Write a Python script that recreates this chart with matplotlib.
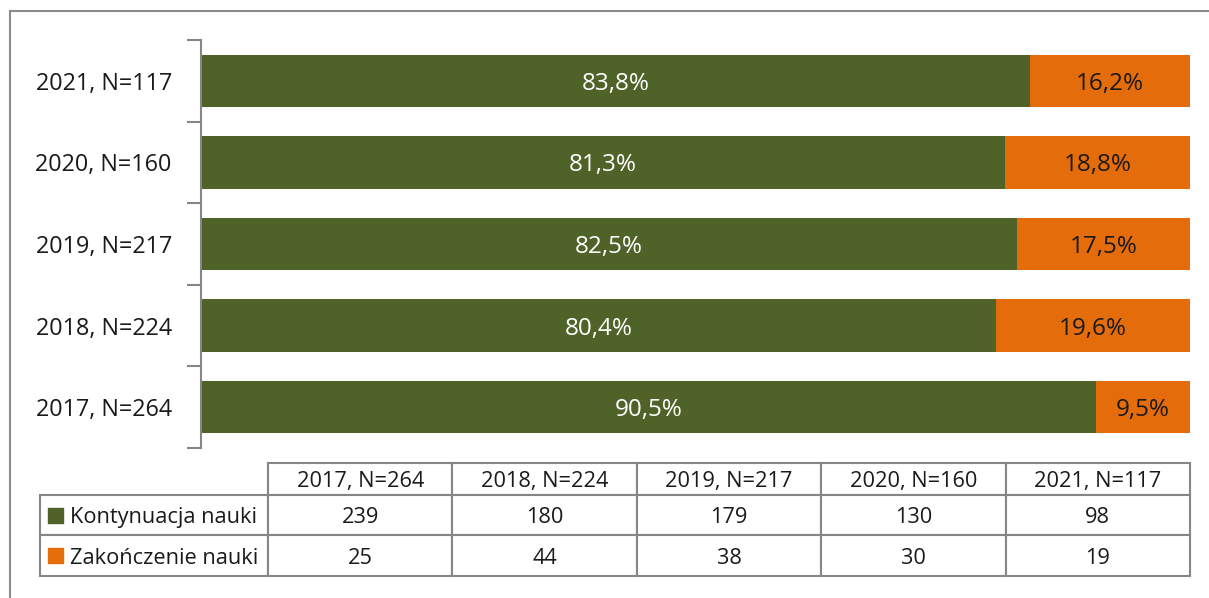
import matplotlib
matplotlib.use("Agg")
import matplotlib.pyplot as plt
from matplotlib.patches import Rectangle
from matplotlib.lines import Line2D
import numpy as np

plt.rcParams['font.family'] = ['Open Sans', 'DejaVu Sans']

categories = ["2017, N=264", "2018, N=224", "2019, N=217", "2020, N=160", "2021, N=117"]
kontynuacja_pct = [90.5, 80.4, 82.5, 81.3, 83.8]
zakonczenie_pct = [9.5, 19.6, 17.5, 18.8, 16.2]
kontynuacja_n = [239, 180, 179, 130, 98]
zakonczenie_n = [25, 44, 38, 30, 19]
series_names = ["Kontynuacja nauki", "Zakończenie nauki"]

GREEN = "#4F6228"
ORANGE = "#E46C0A"
GRAY = "#868686"
TXT = "#1a1a1a"

W, H = 1209, 598
fig = plt.figure(figsize=(W / 100, H / 100), dpi=100)

def fx(px):
    return px / W

def fy(py):
    return 1 - py / H

# outer frame
fig.add_artist(Line2D([fx(10), fx(10)], [fy(11), 0], color="#8C8C8C", lw=1.5, transform=fig.transFigure))
fig.add_artist(Line2D([fx(10), 1], [fy(11), fy(11)], color="#8C8C8C", lw=1.5, transform=fig.transFigure))

ax = fig.add_axes([fx(201), fy(448), fx(1190) - fx(201), fy(40) - fy(448)])
y = np.arange(len(categories))
h = 0.64
ax.barh(y, kontynuacja_pct, height=h, color=GREEN)
ax.barh(y, zakonczenie_pct, left=kontynuacja_pct, height=h, color=ORANGE)
for i in range(len(categories)):
    ax.text(kontynuacja_pct[i] / 2, y[i], f"{kontynuacja_pct[i]:.1f}%".replace(".", ","),
            ha="center", va="center_baseline", color="white", fontsize=17.5)
    ax.text(kontynuacja_pct[i] + zakonczenie_pct[i] / 2, y[i], f"{zakonczenie_pct[i]:.1f}%".replace(".", ","),
            ha="center", va="center_baseline", color=TXT, fontsize=17.5)
ax.set_xlim(0, 100)
ax.set_ylim(-0.5, len(categories) - 0.5)
for s in ["top", "right", "bottom"]:
    ax.spines[s].set_visible(False)
ax.spines["left"].set_color(GRAY)
ax.spines["left"].set_linewidth(1.5)
ax.set_xticks([])
ax.set_yticks(np.arange(-0.5, len(categories), 1.0))
ax.set_yticklabels([])
ax.set_yticks(y, minor=True)
ax.set_yticklabels(categories, minor=True, fontsize=16.8, color=TXT)
ax.tick_params(axis="y", which="major", length=10, width=1.5, color=GRAY)
ax.tick_params(axis="y", which="minor", length=0, pad=21)

# data table
tax = fig.add_axes([fx(40), fy(576), fx(1190) - fx(40), fy(463) - fy(576)])
tax.set_axis_off()
cell_text = [[""] + categories,
             [series_names[0]] + [str(v) for v in kontynuacja_n],
             [series_names[1]] + [str(v) for v in zakonczenie_n]]
first_w = (268 - 40) / (1190 - 40)
other_w = (1 - first_w) / len(categories)
tbl = tax.table(cellText=cell_text, colWidths=[first_w] + [other_w] * len(categories),
                bbox=[0, 0, 1, 1], cellLoc="center")
tbl.auto_set_font_size(False)
row_h = [32, 40, 41]
tot = sum(row_h)
for (r, c), cell in tbl.get_celld().items():
    cell.set_edgecolor(GRAY)
    cell.set_linewidth(1.5)
    cell.set_height(row_h[r] / tot)
    cell.get_text().set_fontsize(15.7)
    cell.get_text().set_color(TXT)
    cell.get_text().set_va("center_baseline")
    if r == 0 and c == 0:
        cell.visible_edges = ""
    if c == 0 and r > 0:
        cell.get_text().set_ha("left")
        cell._loc = "left"
        cell.PAD = 0.132
# legend squares in row label cells
for r, col in zip([1, 2], [GREEN, ORANGE]):
    y0 = 1 - sum(row_h[:r + 1]) / tot
    yc = y0 + row_h[r] / tot / 2
    sq_w = 15 / (1190 - 40)
    sq_h = 15 / tot
    tax.add_patch(Rectangle((8 / (1190 - 40), yc - sq_h / 2), sq_w, sq_h, color=col,
                            transform=tax.transAxes, clip_on=False, zorder=5))

fig.savefig("out.png", dpi=100)
